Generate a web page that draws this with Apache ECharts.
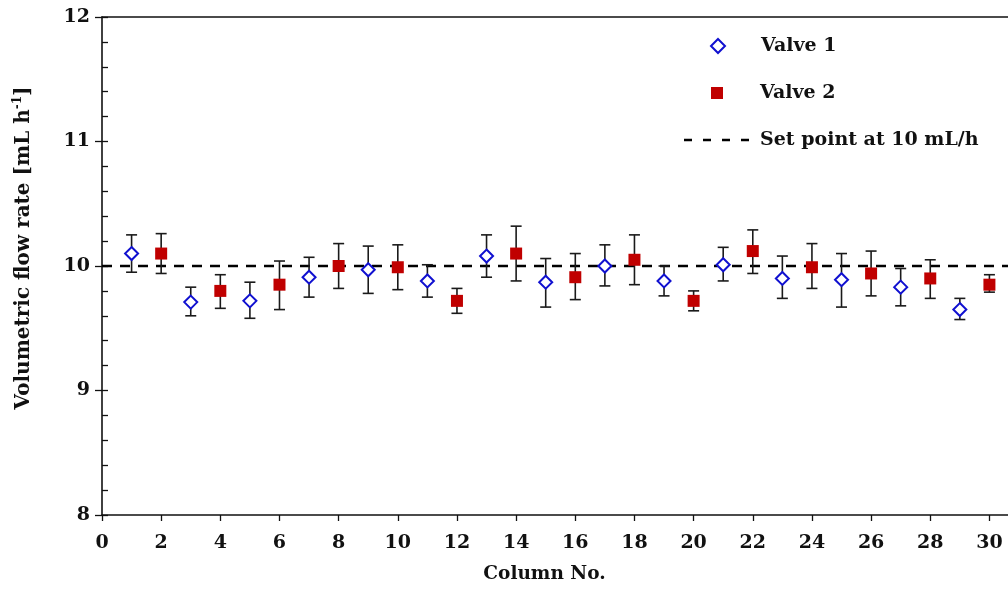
<!DOCTYPE html>
<html>
<head>
<meta charset="utf-8">
<script src="https://cdn.jsdelivr.net/npm/echarts@6/dist/echarts.min.js"></script>
<style>
  html, body { margin: 0; padding: 0; background: #fff; }
  #main { width: 1008px; height: 594px; }
</style>
</head>
<body>
<div id="main"></div>
<script>
// column numbers
var valve1Cols = [1, 3, 5, 7, 9, 11, 13, 15, 17, 19, 21, 23, 25, 27, 29];
var valve2Cols = [2, 4, 6, 8, 10, 12, 14, 16, 18, 20, 22, 24, 26, 28, 30];

// mean flow rate and error bar ends [mL/h]
var valve1Mean = [10.10, 9.71, 9.72, 9.91, 9.97, 9.88, 10.08, 9.87, 10.00, 9.88, 10.01, 9.90, 9.89, 9.83, 9.65];
var valve1Low  = [9.95, 9.60, 9.58, 9.75, 9.78, 9.75, 9.91, 9.67, 9.84, 9.76, 9.88, 9.74, 9.67, 9.68, 9.57];
var valve1High = [10.25, 9.83, 9.87, 10.07, 10.16, 10.01, 10.25, 10.06, 10.17, 10.00, 10.15, 10.08, 10.10, 9.98, 9.74];

var valve2Mean = [10.10, 9.80, 9.85, 10.00, 9.99, 9.72, 10.10, 9.91, 10.05, 9.72, 10.12, 9.99, 9.94, 9.90, 9.85];
var valve2Low  = [9.94, 9.66, 9.65, 9.82, 9.81, 9.62, 9.88, 9.73, 9.85, 9.64, 9.94, 9.82, 9.76, 9.74, 9.79];
var valve2High = [10.26, 9.93, 10.04, 10.18, 10.17, 9.82, 10.32, 10.10, 10.25, 9.80, 10.29, 10.18, 10.12, 10.05, 9.93];

var setPoint = 10;

var fontName = 'DejaVu Serif';

function pairs(xs, ys) {
    let out = [];
    for (let i = 0; i < xs.length; i++) out.push([xs[i], ys[i]]);
    return out;
}
function errData(xs, lo, hi) {
    let out = [];
    for (let i = 0; i < xs.length; i++) out.push([xs[i], lo[i], hi[i]]);
    return out;
}

// whiskers with caps
function renderErr(params, api) {
    let x = api.value(0);
    let lo = api.coord([x, api.value(1)]);
    let hi = api.coord([x, api.value(2)]);
    let w = 5.5;
    let st = { stroke: '#1a1a1a', lineWidth: 1.6 };
    return {
        type: 'group',
        children: [
            { type: 'line', shape: { x1: hi[0], y1: hi[1], x2: lo[0], y2: lo[1] }, style: st },
            { type: 'line', shape: { x1: hi[0] - w, y1: hi[1], x2: hi[0] + w, y2: hi[1] }, style: st },
            { type: 'line', shape: { x1: lo[0] - w, y1: lo[1], x2: lo[0] + w, y2: lo[1] }, style: st }
        ]
    };
}

var chart = echarts.init(document.getElementById('main'));

var legendText = { fontFamily: fontName, fontWeight: 'bold', fontSize: 19, color: '#111', lineHeight: 20 };
// four short dashes for the set point legend
var dashIcon = 'path://M0,0h8v2.6h-8z M19,0h8v2.6h-8z M38,0h8v2.6h-8z M57,0h8v2.6h-8z';

var option = {
    animation: false,
    backgroundColor: '#fff',
    grid: { left: 102, top: 17, bottom: 79, width: 917, outerBoundsMode: 'none' },
    legend: [
        {
            data: ['Valve 1'], left: 710, top: 36, padding: 0, orient: 'vertical',
            itemWidth: 14, itemHeight: 14,
            textStyle: Object.assign({ padding: [0, 0, 0, 31] }, legendText)
        },
        {
            data: ['Valve 2'], left: 711, top: 83, padding: 0, orient: 'vertical',
            itemWidth: 12, itemHeight: 12,
            textStyle: Object.assign({ padding: [0, 0, 0, 32] }, legendText)
        },
        {
            data: [{ name: 'Set point at 10 mL/h', icon: dashIcon }], left: 684, top: 130, padding: 0, orient: 'vertical',
            itemWidth: 65, itemHeight: 14,
            textStyle: Object.assign({ padding: [0, 0, 0, 6] }, legendText)
        }
    ],
    xAxis: [
        {
            type: 'value', min: 0, max: 31, interval: 2,
            name: 'Column No.', nameLocation: 'middle', nameGap: 50,
            nameTextStyle: { fontFamily: fontName, fontWeight: 'bold', fontSize: 18.5, color: '#111', padding: [0, 32, 0, 0] },
            axisLine: { lineStyle: { color: '#111', width: 1.6 } },
            axisTick: { length: 6, lineStyle: { color: '#111', width: 1.3 } },
            axisLabel: { margin: 19, showMaxLabel: false, fontFamily: fontName, fontWeight: 'bold', fontSize: 19, color: '#111' },
            splitLine: { show: false }
        },
        {
            type: 'value', position: 'top', min: 0, max: 31,
            axisLine: { show: true, onZero: false, lineStyle: { color: '#111', width: 1.6 } },
            axisTick: { show: false }, axisLabel: { show: false }, splitLine: { show: false }
        }
    ],
    yAxis: [
        {
            type: 'value', min: 8, max: 12, interval: 1,
            name: '{a|Volumetric flow rate [mL h}{s|-1}{a|]}', nameLocation: 'middle', nameGap: 66,
            nameTextStyle: {
                padding: [0, 0, 0, 36],
                rich: {
                    a: { fontFamily: fontName, fontWeight: 'bold', fontSize: 20, color: '#111', lineHeight: 24 },
                    s: { fontFamily: fontName, fontWeight: 'bold', fontSize: 12, color: '#111', lineHeight: 24, verticalAlign: 'top' }
                }
            },
            axisLine: { lineStyle: { color: '#111', width: 1.6 } },
            axisTick: { length: 7, lineStyle: { color: '#111', width: 1.3 } },
            axisLabel: { margin: 12, fontFamily: fontName, fontWeight: 'bold', fontSize: 19, color: '#111' },
            splitLine: { show: false }
        },
        {
            // inner ticks every 0.2
            type: 'value', min: 8, max: 12, interval: 0.2, position: 'left',
            axisLine: { show: false },
            axisTick: { inside: true, length: 6, lineStyle: { color: '#111', width: 1.3 } },
            axisLabel: { show: false },
            splitLine: { show: false }
        }
    ],
    series: [
        {
            name: 'Set point at 10 mL/h', type: 'line', xAxisIndex: 0, yAxisIndex: 0,
            data: [[0, setPoint], [31, setPoint]],
            symbol: 'none', silent: true, z: 1,
            lineStyle: { color: '#000', width: 2.6, type: [10, 8] },
            itemStyle: { color: '#000' }
        },
        {
            name: 'Valve 1 err', type: 'custom', renderItem: renderErr, z: 2,
            data: errData(valve1Cols, valve1Low, valve1High)
        },
        {
            name: 'Valve 2 err', type: 'custom', renderItem: renderErr, z: 2,
            data: errData(valve2Cols, valve2Low, valve2High)
        },
        {
            name: 'Valve 1', type: 'scatter', z: 3,
            symbol: 'diamond', symbolSize: 13,
            itemStyle: { color: '#fff', borderColor: '#1010d0', borderWidth: 2, opacity: 1 },
            data: pairs(valve1Cols, valve1Mean)
        },
        {
            name: 'Valve 2', type: 'scatter', z: 3,
            symbol: 'rect', symbolSize: 12,
            itemStyle: { color: '#c00000', opacity: 1 },
            data: pairs(valve2Cols, valve2Mean)
        }
    ]
};

chart.setOption(option);
</script>
</body>
</html>
